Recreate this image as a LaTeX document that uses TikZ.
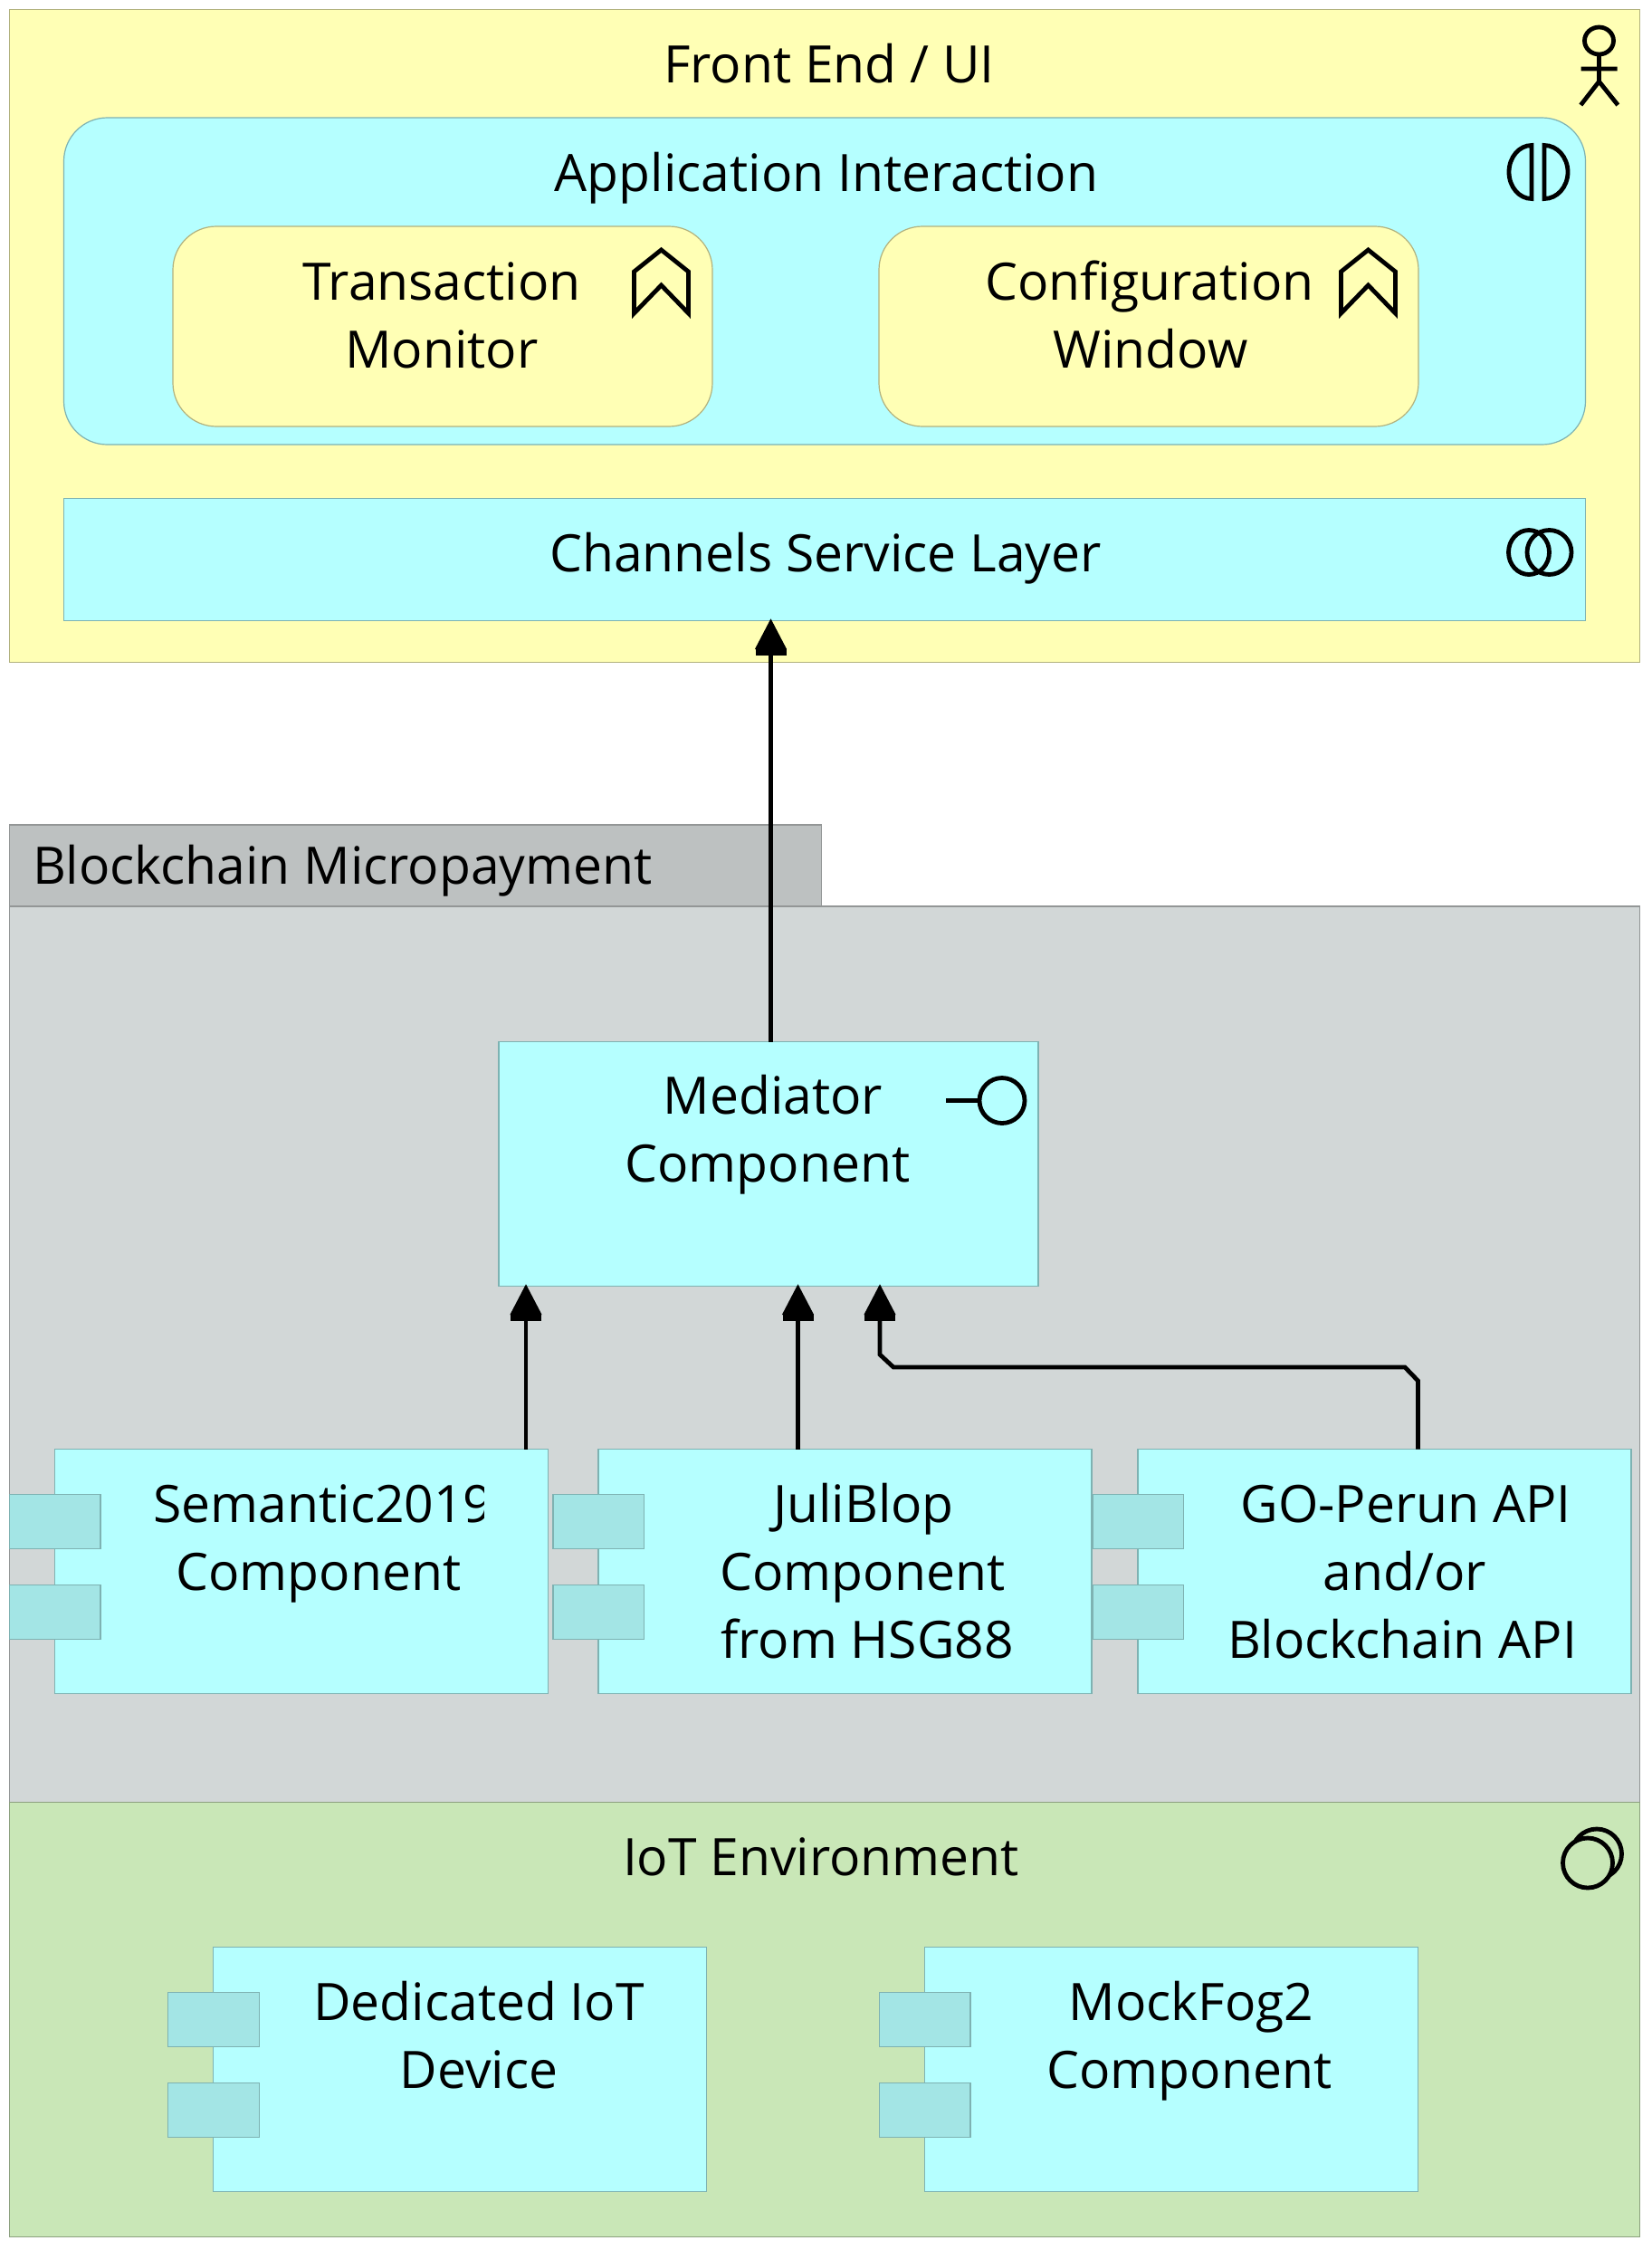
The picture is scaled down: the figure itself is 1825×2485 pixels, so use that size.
\documentclass[tikz,border=0pt]{standalone}
\usepackage{fontspec}
\setmainfont{Open Sans}
\usetikzlibrary{arrows.meta,calc}
\definecolor{bizfill}{HTML}{FFFFB5}
\definecolor{bizline}{HTML}{B2B27E}
\definecolor{appfill}{HTML}{B5FFFF}
\definecolor{appline}{HTML}{7EB2B2}
\definecolor{apptab}{HTML}{A3E5E5}
\definecolor{grpfill}{HTML}{D2D7D7}
\definecolor{grptab}{HTML}{BDC1C1}
\definecolor{grpline}{HTML}{939696}
\definecolor{tecfill}{HTML}{C9E7B7}
\definecolor{tecline}{HTML}{8CA17F}
\tikzset{
  x=0.5pt,y=-0.5pt,
  boxbase/.style={rectangle,anchor=north west,inner sep=0pt,outer sep=0pt,line width=0.6pt},
  biz/.style={boxbase,draw=bizline,fill=bizfill},
  app/.style={boxbase,draw=appline,fill=appfill},
  tabc/.style={boxbase,draw=appline,fill=apptab,minimum width=50.2pt,minimum height=30pt},
  grp/.style={boxbase,draw=grpline,fill=grpfill},
  grptabs/.style={boxbase,draw=grpline,fill=grptab},
  tec/.style={boxbase,draw=tecline,fill=tecfill},
  comp/.style={app,minimum width=272.5pt,minimum height=135pt},
  round box/.style={rounded corners=24pt},
  lab/.style={anchor=base,inner sep=0pt,outer sep=0pt,font=\fontsize{28.5pt}{37.5pt}\selectfont,text=black},
  arr/.style={line width=2.4pt,draw=black,shorten >=-1.2pt,-{Rectangle[length=4pt,width=17pt,sep=-0.6pt] Triangle[length=17pt,width=17pt]}},
  ico/.style={line width=2.4pt,draw=black,miter limit=10},
}
\begin{document}
\begin{tikzpicture}
\useasboundingbox (0,0) rectangle (1825,2485);
\fill[white] (0,0) rectangle (1825,2485);

% Front End
\node[biz,minimum width=900.5pt,minimum height=360.5pt] (fe) at (10.5,10.5) {};
\node[app,round box,minimum width=840.5pt,minimum height=180.5pt] (ai) at (70.5,130) {};
\node[biz,round box,minimum width=298pt,minimum height=110.5pt] (tm) at (191,250) {};
\node[biz,round box,minimum width=298pt,minimum height=110.5pt] (cw) at (971,250) {};
\node[app,minimum width=840.5pt,minimum height=67.5pt] (csl) at (70.5,550.5) {};

% Blockchain group
\node[grptabs,minimum width=448.5pt,minimum height=45pt] (bmt) at (10.5,911) {};
\node[grp,minimum width=900.5pt,minimum height=495pt] (bm) at (10.5,1001) {};
\node[app,minimum width=298pt,minimum height=135pt] (med) at (551,1150.5) {};

\node[comp] (sem) at (60.5,1600.5) {};
\node[tabc] (sem1) at (10.5,1650.5) {};
\node[tabc] (sem2) at (10.5,1750.5) {};
\node[comp] (jul) at (661,1600.5) {};
\node[tabc] (jul1) at (611,1650.5) {};
\node[tabc] (jul2) at (611,1750.5) {};
\node[comp] (gop) at (1257,1600.5) {};
\node[tabc] (gop1) at (1207,1650.5) {};
\node[tabc] (gop2) at (1207,1750.5) {};

% IoT group
\node[tec,minimum width=900.5pt,minimum height=240pt] (iot) at (10.5,1990.5) {};
\node[comp] (ded) at (235.7,2150.5) {};
\node[tabc] (ded1) at (185.7,2200.5) {};
\node[tabc] (ded2) at (185.7,2300.5) {};
\node[comp] (moc) at (1021.5,2150.5) {};
\node[tabc] (moc1) at (971.5,2200.5) {};
\node[tabc] (moc2) at (971.5,2300.5) {};

% Labels
\node[lab] (l1) at (916,91) {Front End / UI};
\node[lab] (l2) at (913,211) {Application Interaction};
\node[lab] (l3) at (488,331) {Transaction};
\node[lab] (l4) at (488,406) {Monitor};
\node[lab] (l5) at (1270,331) {Configuration};
\node[lab] (l6) at (1271,406) {Window};
\node[lab] (l7) at (912,631) {Channels Service Layer};
\node[lab,anchor=base west] (l8) at (36,976) {Blockchain Micropayment};
\node[lab] (l9) at (854,1230) {Mediator};
\node[lab] (l10) at (848,1305) {Component};
\begin{scope}
\clip (60,1600) rectangle (534,1870);
\node[lab] (l11) at (357,1681) {Semantic2019};
\end{scope}
\node[lab] (l12) at (352,1756) {Component};
\node[lab] (l13) at (954,1681) {JuliBlop};
\node[lab] (l14) at (953,1756) {Component};
\node[lab] (l15) at (958,1831) {from HSG88};
\node[lab] (l16) at (1553,1681) {GO-Perun API};
\node[lab] (l17) at (1552,1756) {and/or};
\node[lab] (l18) at (1549,1831) {Blockchain API};
\node[lab] (l19) at (907,2071) {IoT Environment};
\node[lab] (l20) at (529,2231) {Dedicated IoT};
\node[lab] (l21) at (529,2306) {Device};
\node[lab] (l22) at (1316,2231) {MockFog2};
\node[lab] (l23) at (1314,2306) {Component};

% Icons
\draw[ico] (1766.5,45) ellipse (16 and 15);
\draw[ico] (1766.5,60) -- (1766.5,90) (1746.5,76) -- (1786.5,76) (1746.3,116) -- (1766.5,90) -- (1787.3,116);
\draw[ico] (1692,160.5) arc[start angle=270,end angle=90,x radius=25,y radius=29.5] -- cycle;
\draw[ico] (1706,219.5) arc[start angle=90,end angle=-90,x radius=26,y radius=29.5] -- cycle;
\draw[ico] (1689,610) ellipse (22.5 and 24.5);
\draw[ico] (1711.5,610) ellipse (24.5 and 24.5);
\foreach \dx in {0,-781}{
  \draw[ico] (1481.5+\dx,346) -- (1481.5+\dx,300) -- (1511.5+\dx,276) -- (1541.5+\dx,300) -- (1541.5+\dx,346) -- (1511.5+\dx,315) -- cycle;
}
\draw[ico] (1045,1215.5) -- (1082,1215.5);
\draw[ico] (1107,1215.5) circle (25);
\draw[ico] (1764,2047.5) circle (27.5);
\draw[ico,fill=tecfill] (1754,2057.5) circle (27.5);

% Connectors
\draw[arr] ($(med.north west)+(300.5,0)$) coordinate (s0) -- (s0 |- csl.south);
\draw[arr] ($(sem.north west)+(520.5,0)$) coordinate (s1) -- (s1 |- med.south);
\draw[arr] ($(jul.north west)+(220.5,0)$) coordinate (s2) -- (s2 |- med.south);
\draw[arr] ($(gop.north west)+(309.5,0)$) coordinate (s3) -- ++(0,-75.5) -- ++(-14.5,-15) -- ++(-565,0) -- ++(-15,-14) coordinate (s4) -- (s4 |- med.south);
\end{tikzpicture}
\end{document}
